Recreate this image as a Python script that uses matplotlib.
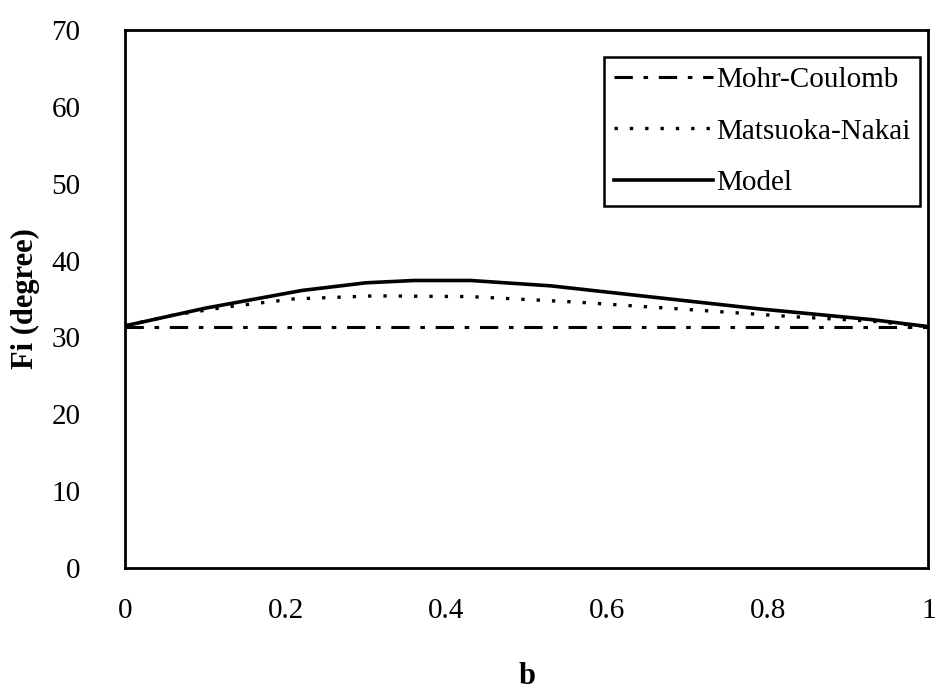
import matplotlib
matplotlib.use("Agg")
import matplotlib.pyplot as plt
import numpy as np

plt.rcParams['font.family'] = ['Liberation Serif', 'DejaVu Serif']

b_mc = [0.0, 1.0]
fi_mc = [31.4, 31.4]

b_mn = [0.0, 0.06, 0.13, 0.21, 0.31, 0.43, 0.56, 0.69, 0.83, 0.93, 1.0]
fi_mn = [31.5, 32.9, 34.0, 35.0, 35.4, 35.3, 34.6, 33.7, 32.7, 32.1, 31.4]

b_model = [0.0, 0.10, 0.22, 0.30, 0.36, 0.43, 0.53, 0.66, 0.79, 0.93, 1.0]
fi_model = [31.5, 33.8, 36.1, 37.1, 37.4, 37.4, 36.7, 35.2, 33.7, 32.3, 31.4]

xticks = [0, 0.2, 0.4, 0.6, 0.8, 1]
xticklabels = ['0', '0.2', '0.4', '0.6', '0.8', '1']
yticks = [0, 10, 20, 30, 40, 50, 60, 70]

fig = plt.figure(figsize=(9.43, 6.96), dpi=100)
ax = fig.add_axes([0.1326, 0.184, 0.852, 0.773])

ax.plot(b_mc, fi_mc, color='black', lw=2.2, dashes=(6, 3.5, 1.5, 3.5), label='Mohr-Coulomb')
ax.plot(b_mn, fi_mn, color='black', lw=2.4, dashes=(1.0, 3.6), label='Matsuoka-Nakai')
ax.plot(b_model, fi_model, color='black', lw=2.6, label='Model')

ax.set_xlim(0, 1)
ax.set_ylim(0, 70)
ax.set_xticks(xticks)
ax.set_xticklabels(xticklabels)
ax.set_yticks(yticks)
ax.tick_params(axis='both', length=0, labelsize=21)
ax.tick_params(axis='x', pad=22)
ax.tick_params(axis='y', pad=32)
for s in ax.spines.values():
    s.set_linewidth(2)
    s.set_color('black')

ax.set_xlabel('b', fontsize=22, fontweight='bold')
ax.xaxis.set_label_coords(0.5, -0.175)
ax.set_ylabel('Fi (degree)', fontsize=22, fontweight='bold')
ax.yaxis.set_label_coords(-0.106, 0.5)

leg = ax.legend(loc='upper right', bbox_to_anchor=(0.99, 0.95), fontsize=21,
                frameon=True, fancybox=False, edgecolor='black', framealpha=1,
                handlelength=3.4, handletextpad=0.1, borderpad=0.35, labelspacing=0.85,
                borderaxespad=0)
leg.get_frame().set_linewidth(1.8)

fig.savefig('out.png', dpi=100)
